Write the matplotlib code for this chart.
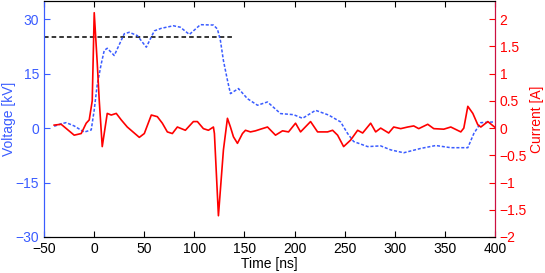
import matplotlib
matplotlib.use("Agg")
import matplotlib.pyplot as plt
from matplotlib.ticker import FuncFormatter

plt.rcParams['font.family'] = ['Liberation Sans', 'DejaVu Sans']
plt.rcParams['axes.unicode_minus'] = True

# Voltage (kV) trace
v_t = [-40, -33, -28, -20, -10, -3, 0, 3, 7, 10, 13, 20, 30, 35, 43, 52, 60, 67, 79, 86,
       95, 106, 119, 123, 126, 129, 133, 136, 144, 153, 163, 173, 186, 199, 208, 221, 234,
       246, 253, 259, 273, 286, 296, 309, 326, 341, 356, 373, 379, 386, 399]
v_kv = [0.5, 1.2, 1.5, 0.6, -1.1, -0.5, 5, 12, 17.7, 21.4, 22, 20, 26, 26.4, 25.5, 22.3, 26.8, 27.5, 28.2, 27.8,
        25.8, 28.5, 28.4, 27.3, 24.1, 18.6, 13.2, 9.5, 10.9, 8.1, 6.3, 7.2, 4.0, 3.7, 2.7, 4.9, 3.6,
        1.7, -1.5, -3.7, -5.1, -4.9, -6.0, -6.8, -5.6, -4.8, -5.4, -5.4, -1.5, 1.5, 1.7]

# Current (A) trace
i_t = [-40, -33, -20, -13, -8, -5, -2, 0, 3, 5, 8, 13, 17, 22, 27, 33, 45, 50, 57, 63, 68,
       73, 78, 83, 91, 99, 103, 109, 114, 119, 120, 124, 129, 133, 136, 139, 143, 148, 151,
       156, 161, 166, 173, 181, 188, 194, 201, 206, 216, 223, 233, 238, 243, 249, 256, 263,
       268, 276, 281, 286, 294, 299, 306, 313, 319, 324, 333, 339, 349, 356, 366, 369, 373,
       378, 383, 386, 393, 401]
i_a = [0.055, 0.07, -0.13, -0.10, 0.09, 0.15, 0.5, 2.12, 1.2, 0.51, -0.34, 0.27, 0.24, 0.27, 0.15, 0.02, -0.17, -0.10, 0.24, 0.21, 0.09,
       -0.07, -0.10, 0.02, -0.04, 0.12, 0.12, -0.01, -0.04, 0.02, -0.1, -1.61, -0.40, 0.18, 0.02, -0.16, -0.28, -0.10, -0.04,
       -0.07, -0.05, -0.02, 0.02, -0.13, -0.05, -0.07, 0.09, -0.07, 0.12, -0.07, -0.07, -0.04, -0.13, -0.34, -0.22, -0.04,
       -0.09, 0.09, -0.07, 0.0, -0.09, 0.02, -0.01, 0.02, 0.04, -0.01, 0.07, -0.01, -0.02, 0.02, -0.07, 0.0, 0.40,
       0.27, 0.06, 0.02, 0.12, 0.0]

# Reference level
ref_t = [-50, 140]
ref_kv = [25, 25]

x_ticks = [-50, 0, 50, 100, 150, 200, 250, 300, 350, 400]
v_ticks = [-30, -15, 0, 15, 30]
i_ticks = [-2, -1.5, -1, -0.5, 0, 0.5, 1, 1.5, 2]

blue = '#3a5cff'
red = '#ff0000'

fig = plt.figure(figsize=(5.45, 2.73), dpi=100)
ax = fig.add_axes([0.081, 0.132, 0.827, 0.864])
ax2 = ax.twinx()

ax.plot(ref_t, ref_kv, color='black', linestyle=(0, (3, 2)), linewidth=1.1)
ax.plot(v_t, v_kv, color=blue, linestyle=(0, (2, 1.2)), linewidth=1.1)
ax2.plot(i_t, i_a, color=red, linewidth=1.2)

ax.set_xlim(-50, 400)
ax.set_ylim(-30, 35)
ax2.set_ylim(-2, 2.3333)
ax.set_xticks(x_ticks)
ax.set_yticks(v_ticks)
ax2.set_yticks(i_ticks)
fmt = FuncFormatter(lambda v, p: ('%g' % v).replace('-', '\u2212'))
ax2.yaxis.set_major_formatter(fmt)
ax.yaxis.set_major_formatter(fmt)
ax.xaxis.set_major_formatter(fmt)

fs = 10
ax.tick_params(axis='x', direction='in', top=True, length=4, labelsize=fs, colors='black')
ax.tick_params(axis='y', direction='in', length=4, labelsize=fs, colors=blue)
ax2.tick_params(axis='y', direction='in', length=4, labelsize=fs, colors=red)

ax.set_xlabel('Time [ns]', fontsize=fs, labelpad=1)
ax.set_ylabel('Voltage [kV]', fontsize=fs, color=blue, labelpad=0)
ax2.set_ylabel('Current [A]', fontsize=fs, color=red, labelpad=2)

for a in (ax, ax2):
    a.spines['left'].set_color(blue)
    a.spines['right'].set_color('#cc1040')
    a.spines['top'].set_color('black')
    a.spines['bottom'].set_color('black')

fig.savefig('out.png', dpi=100)
